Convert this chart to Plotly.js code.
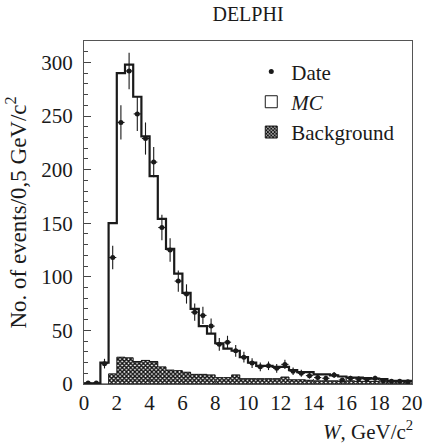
<!DOCTYPE html>
<html>
<head>
<meta charset="utf-8">
<script src="https://cdn.plot.ly/plotly-3.0.1.min.js"></script>
<style>html,body{margin:0;padding:0;background:#fff;}#chart{width:425px;height:445px;}</style>
</head>
<body>
<div id="chart"></div>
<script>
const binCenters = [0.25,0.75,1.25,1.75,2.25,2.75,3.25,3.75,4.25,4.75,5.25,5.75,6.25,6.75,7.25,7.75,8.25,8.75,9.25,9.75,
  10.25,10.75,11.25,11.75,12.25,12.75,13.25,13.75,14.25,14.75,15.25,15.75,16.25,16.75,17.25,17.75,18.25,18.75,19.25,19.75];
const binEdges = [0,0.5,1,1.5,2,2.5,3,3.5,4,4.5,5,5.5,6,6.5,7,7.5,8,8.5,9,9.5,
  10,10.5,11,11.5,12,12.5,13,13.5,14,14.5,15,15.5,16,16.5,17,17.5,18,18.5,19,19.5,20];
const mcCounts = [0.5,0.5,20,150,290,298,268,231,194,154,126,103,85,70,54,47,38,33,31,25,
  20,17,17,16,16,13,11,11,9,9,8,7,6,6,5.5,5,4.5,3,3,3];
const bkgCounts = [0,0,0,9.5,25,24.5,21,22,21,16,13,12.5,11,9,9,8.5,6,6,8.5,5,
  5,5,5,5,6.5,4,4,3.5,3,3,3,2.5,3,2.5,2.5,2.5,2,2,2,2];
const dataCounts = [1,1,19,118,244,292,252,229,207,146,125,96,84,67,64,54,37,39,31,25,
  19.5,16,17,14.6,18.3,12,10,7.8,6,5.3,8.4,3.7,5.3,4.7,4.3,5.3,3,2.5,2.5,2];
const dataErrors = [1,1,4.5,11,16,17,16,15,14,12,11,10,9,8,8,7,6,6,5.5,5,
  4.5,4,4,4,4.3,3.5,3.2,2.8,2.5,2.3,2.9,2,2.3,2.2,2,2.3,1.7,1.6,1.6,1.4];
const xTickVals = [0,2,4,6,8,10,12,14,16,18,20];
const yTickVals = [0,50,100,150,200,250,300];

const serif = "'Liberation Serif', 'Times New Roman', Times, serif";
const ink = '#1a1a1a';
const bkgPattern = {shape:'x', size:3, solidity:0.7, fgcolor:'#111', bgcolor:'#fff', fillmode:'replace'};

const traces = [
  { type:'bar', x:binCenters, y:bkgCounts, width:0.5, showlegend:false, hoverinfo:'skip',
    marker:{color:'#fff', pattern:bkgPattern, line:{width:0}} },
  { type:'scatter', mode:'lines', x:binEdges, y:bkgCounts.concat([bkgCounts[bkgCounts.length-1]]),
    line:{shape:'hv', color:ink, width:1}, showlegend:false, hoverinfo:'skip' },
  { type:'scatter', mode:'lines', x:binEdges, y:mcCounts.concat([mcCounts[mcCounts.length-1]]),
    line:{shape:'hv', color:ink, width:2.2}, showlegend:false, hoverinfo:'skip' },
  { type:'scatter', mode:'markers', name:'Date', x:binCenters, y:dataCounts, legendrank:1,
    marker:{color:ink, size:5},
    error_y:{type:'data', array:dataErrors, visible:true, color:ink, thickness:1.1, width:0},
    error_x:{type:'constant', value:0.22, visible:true, color:ink, thickness:1.1, width:0} },
  { type:'bar', name:'<i>MC</i>', x:[null], y:[null], legendrank:2,
    marker:{color:'#fff', line:{color:ink, width:1}} },
  { type:'bar', name:'Background', x:[null], y:[null], legendrank:3,
    marker:{color:'#fff', pattern:bkgPattern, line:{color:ink, width:1}} }
];

const layout = {
  width:425, height:445,
  margin:{l:84, r:13, t:41, b:61},
  paper_bgcolor:'#fff', plot_bgcolor:'#fff',
  font:{family:serif, size:21, color:ink},
  barmode:'overlay', bargap:0,
  showlegend:true,
  title:{text:'DELPHI', x:0.5, xref:'paper', y:0.969, yanchor:'middle', font:{family:serif, size:20, color:ink}},
  legend:{x:0.51, y:0.97, xanchor:'left', yanchor:'top', bgcolor:'rgba(0,0,0,0)', borderwidth:0,
    font:{family:serif, size:21, color:ink}, traceorder:'normal'},
  xaxis:{range:[0,20], tickvals:xTickVals, ticks:'inside', ticklen:5, tickcolor:'#444',
    showline:true, linecolor:'#555', linewidth:1, mirror:true, showgrid:false, zeroline:false,
    ticklabelstandoff:0,
    tickfont:{family:serif, size:21, color:ink}},
  yaxis:{range:[0,320], tickvals:yTickVals, ticks:'inside', ticklen:7, tickcolor:'#444',
    minor:{ticks:'inside', dtick:10, ticklen:4, tickcolor:'#444'},
    showline:true, linecolor:'#555', linewidth:1, mirror:true, showgrid:false, zeroline:false,
    ticklabelstandoff:6,
    tickfont:{family:serif, size:21, color:ink},
    title:{text:'No. of events/0,5 GeV/c<sup>2</sup>', standoff:8, font:{family:serif, size:23, color:ink}}},
  annotations:[
    {text:'<i>W</i>, GeV/c<sup>2</sup>', xref:'paper', yref:'paper', x:1.01, y:-0.137,
     xanchor:'right', yanchor:'middle', showarrow:false, font:{family:serif, size:21, color:ink}}
  ]
};

Plotly.newPlot('chart', traces, layout, {displayModeBar:false, staticPlot:true});
</script>
</body>
</html>
